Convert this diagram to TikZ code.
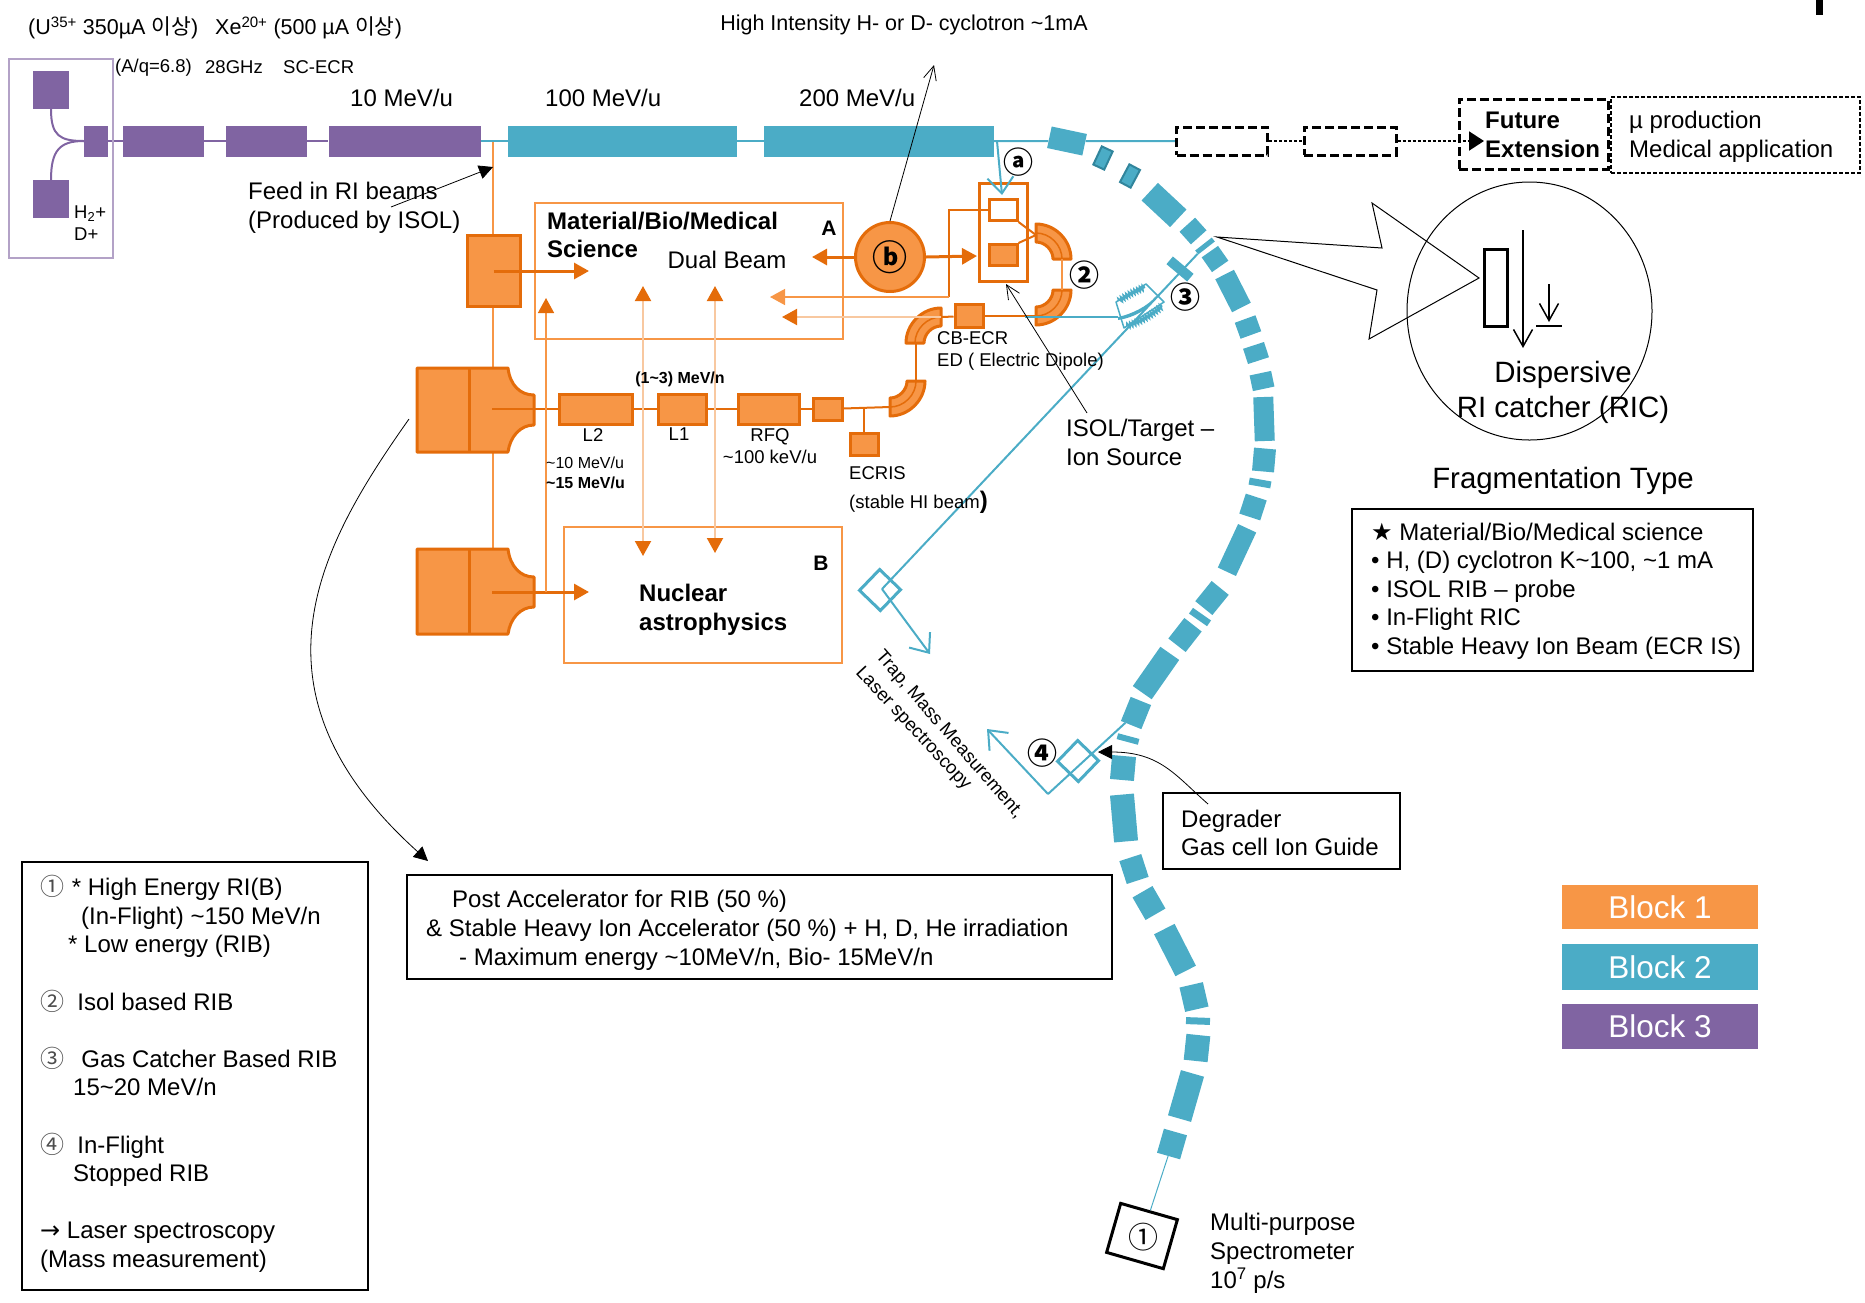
\documentclass[tikz,border=0pt]{standalone}
\usepackage{fontspec}
\usepackage{xcolor}
\usepackage{tikz}
\usetikzlibrary{shapes.geometric,arrows.meta,backgrounds,decorations.pathmorphing}
\setmainfont{Liberation Sans}
\newfontfamily\cjkfont{Noto Sans CJK KR}
\newfontfamily\symfont{DejaVu Sans}
\definecolor{blockorange}{HTML}{F79646}
\definecolor{darkorange}{HTML}{E46C0A}
\definecolor{paleorange}{HTML}{F8C8A0}
\definecolor{blockblue}{HTML}{4BACC6}
\definecolor{darkblue}{HTML}{31859C}
\definecolor{blockpurple}{HTML}{8064A2}
\definecolor{palepurple}{HTML}{B3A2C7}

\begin{document}
\begin{tikzpicture}[
    x=1pt, y=-1pt,
    txtXL/.style={inner sep=0pt, align=left, anchor=west, font=\fontsize{29.4}{35}\selectfont},
    txtL/.style={inner sep=0pt, align=left, anchor=west, font=\fontsize{24}{29}\selectfont},
    txtB/.style={inner sep=0pt, align=left, anchor=west, font=\fontsize{24}{28.6}\selectfont},
    txtM/.style={inner sep=0pt, align=left, anchor=west, font=\fontsize{21.5}{26}\selectfont},
    txtS/.style={inner sep=0pt, align=left, anchor=west, font=\fontsize{18.5}{22}\selectfont},
    txtXS/.style={inner sep=0pt, align=left, anchor=west, font=\fontsize{16}{20}\selectfont},
    circnum/.style={inner sep=0pt, font=\cjkfont\bfseries\fontsize{30}{30}\selectfont},
    accel/.style 2 args={rectangle, fill=#1, inner sep=0pt, minimum width=#2, minimum height=31pt},
    seg/.style 2 args={rectangle, fill=blockblue, inner sep=0pt, minimum width=#1, minimum height=#2},
    smallquad/.style={rectangle, fill=blockblue, draw=darkblue, line width=2pt, inner sep=0pt, minimum width=12pt, minimum height=20pt},
    magnet/.style={rectangle, fill=blockorange, draw=darkorange, line width=3pt, inner sep=0pt},
    quadshape/.style={fill=blockorange, draw=darkorange, line width=3pt, line join=round},
    frameorange/.style={rectangle, draw=blockorange, line width=2pt, inner sep=0pt},
    blackbox/.style={rectangle, draw=black, line width=2pt, inner sep=0pt},
    trapbox/.style={rectangle, draw=blockblue, line width=3pt, minimum size=29pt, rotate=46, inner sep=0pt},
    futurebox/.style={rectangle, draw=black, line width=3pt, dash pattern=on 9pt off 4pt, inner sep=0pt},
    blocktag/.style={rectangle, fill=#1, text=white, minimum width=196pt, minimum height=44pt, font=\fontsize{31.5}{31.5}\selectfont},
    beampurple/.style={draw=blockpurple, line width=2pt},
    beamblue/.style={draw=blockblue, line width=2pt},
    beamdark/.style={draw=darkorange, line width=2pt},
    beamlight/.style={draw=blockorange, line width=2pt},
    beampale/.style={draw=paleorange, line width=2pt},
    tipline/.style={draw=darkorange, line width=3pt, -{Triangle[length=15pt,width=16pt]}},
    tipthin/.style={draw=darkorange, line width=1.5pt, -{Triangle[length=15pt,width=16pt]}},
    bluebarb/.style={draw=blockblue, line width=2pt, -{Straight Barb[length=16pt,width=26pt]}},
    blackbarb/.style={draw=black, line width=1.5pt, -{Straight Barb[length=17pt,width=19pt]}},
    thinbarb/.style={draw=black, line width=0.8pt, -{Straight Barb[length=14pt,width=13pt]}},
    thinsolid/.style={draw=black, line width=0.8pt, -{Triangle[length=14pt,width=14pt]}},
    bendmag/.pic={
      \draw [quadshape] (35,0) .. controls (35,19) and (19,35) .. (0,35) -- (0,17) .. controls (9,17) and (17,9) .. (17,0) -- cycle;
      \draw [draw=darkorange, line width=1.5pt] (26,0) .. controls (26,14) and (14,26) .. (0,26);
    }
]
\useasboundingbox (0,0) rectangle (1865,1302);

% Ion sources and first linac (Block 3)
\node [rectangle, draw=palepurple, line width=2pt, minimum width=104pt, minimum height=199pt, inner sep=0pt] (srcframe) at (61,158.5) {};
\node [accel={blockpurple}{36pt}, minimum height=38pt] (srcup) at (51,90) {};
\node [accel={blockpurple}{36pt}, minimum height=38pt] (srclow) at (51,199) {};
\node [accel={blockpurple}{24pt}] (inj) at (96,141) {};
\node [accel={blockpurple}{81pt}] (acca) at (163.5,141) {};
\node [accel={blockpurple}{81pt}] (accb) at (266.5,141) {};
\node [accel={blockpurple}{152pt}] (accc) at (404.5,141) {};

% High energy linac (Block 2)
\node [accel={blockblue}{229pt}] (accd) at (622.5,141) {};
\node [accel={blockblue}{230pt}] (acce) at (879,141) {};

% Fragment separator ring
\node [seg={36pt}{22pt}, rotate=-12] (r1) at (1067,141) {};
\node [smallquad, rotate=-25] (r2) at (1103,158) {};
\node [smallquad, rotate=-28] (r3) at (1130,176) {};
\node [seg={39pt}{24pt}, rotate=-43] (r4) at (1164,205) {};
\node [seg={17pt}{21pt}, rotate=-48] (r5) at (1193,231) {};
\node [seg={5pt}{21pt}, rotate=-52] (r6) at (1205,246) {};
\node [seg={18pt}{20pt}, rotate=-55] (r7) at (1215,259) {};
\node [seg={37pt}{21pt}, rotate=-63] (r8) at (1233,291) {};
\node [seg={17pt}{22pt}, rotate=-70] (r9) at (1248,327) {};
\node [seg={16pt}{22pt}, rotate=-72] (r10) at (1256,353) {};
\node [seg={16pt}{22pt}, rotate=-78] (r11) at (1262,381) {};
\node [seg={44pt}{20pt}, rotate=-88] (r12) at (1264,419) {};
\node [seg={23pt}{22pt}, rotate=-95] (r13) at (1264,460) {};
\node [seg={7pt}{22pt}, rotate=-100] (r14) at (1260,483) {};
\node [seg={21pt}{22pt}, rotate=-108] (r15) at (1253,507) {};
\node [seg={48pt}{20pt}, rotate=-115] (r16) at (1237,550) {};
\node [seg={26pt}{22pt}, rotate=-129] (r17) at (1212,598) {};
\node [seg={7pt}{22pt}, rotate=-125] (r18) at (1200,617) {};
\node [seg={26pt}{22pt}, rotate=-128] (r19) at (1185,635) {};
\node [seg={48pt}{23pt}, rotate=-125] (r20) at (1156,673) {};
\node [seg={26pt}{22pt}, rotate=-112] (r21) at (1136,713) {};
\node [seg={6pt}{22pt}, rotate=-105] (r22) at (1128,739) {};
\node [seg={24pt}{24pt}, rotate=-95] (r23) at (1123,768) {};
\node [seg={47pt}{24pt}, rotate=-85] (r24) at (1124,818) {};
\node [seg={24pt}{23pt}, rotate=-72] (r25) at (1134,869) {};
\node [seg={26pt}{23pt}, rotate=-60] (r26) at (1149,903) {};
\node [seg={47pt}{23pt}, rotate=-63] (r27) at (1175,950) {};
\node [seg={25pt}{24pt}, rotate=-77] (r28) at (1194,997) {};
\node [seg={7pt}{24pt}, rotate=-92] (r29) at (1198,1021) {};
\node [seg={26pt}{24pt}, rotate=-96] (r30) at (1197,1048) {};
\node [seg={47pt}{24pt}, rotate=-106] (r31) at (1186,1096) {};
\node [seg={25pt}{24pt}, rotate=-106] (r32) at (1172,1144) {};
\node [seg={27pt}{10pt}, rotate=-40] (r33) at (1180,269) {};

% Future extension
\node [futurebox, minimum width=91pt, minimum height=28pt] (futa) at (1222,141) {};
\node [futurebox, minimum width=92pt, minimum height=28pt] (futb) at (1350,141) {};
\node [futurebox, minimum width=149pt, minimum height=70pt] (futc) at (1533.5,134) {};
\node [rectangle, draw=black, line width=2pt, dash pattern=on 4pt off 2pt, minimum width=249pt, minimum height=76pt, inner sep=0pt] (muonbox) at (1735.5,135) {};
\node [txtL] (muonlabel) at (1629,137) {µ production\\Medical application};
\node [rectangle, fill=black, minimum width=7pt, minimum height=15pt, inner sep=0pt] (topmark) at (1819.5,7.5) {};

% Experiment areas
\node [frameorange, minimum width=308pt, minimum height=136pt] (areaA) at (689,271) {};
\node [frameorange, minimum width=278pt, minimum height=136pt] (areaB) at (703,595) {};

% Low energy linac and RI sources (Block 1)
\node [magnet, minimum width=53pt, minimum height=71pt] (isolbox) at (493.5,271) {};
\node [magnet, minimum width=73pt, minimum height=30pt] (ltwo) at (595.5,409) {};
\node [magnet, minimum width=48pt, minimum height=30pt] (lone) at (682,409) {};
\node [magnet, minimum width=61pt, minimum height=30pt] (rfq) at (768.5,409) {};
\node [magnet, minimum width=29pt, minimum height=22pt] (buncher) at (827.5,409) {};
\node [magnet, minimum width=28pt, minimum height=22pt] (ecris) at (864,444.5) {};
\node [magnet, minimum width=28pt, minimum height=23pt] (cbecr) at (969,316) {};
\node [rectangle, draw=darkorange, line width=3pt, minimum width=48pt, minimum height=98pt, inner sep=0pt] (ionbox) at (1003,232) {};
\node [magnet, fill=white, minimum width=28pt, minimum height=21pt] (targup) at (1003,210) {};
\node [magnet, minimum width=28pt, minimum height=21pt] (targlow) at (1003,255) {};
\node [circle, fill=blockorange, draw=darkorange, line width=3pt, minimum size=69pt, inner sep=0pt, font=\cjkfont\bfseries\fontsize{35}{35}\selectfont] (cyclotron) at (890,257) {ⓑ};

\coordinate (teetop) at (493,141);
\coordinate (quadAc) at (492,409);
\coordinate (quadBc) at (492,592);
\coordinate (quadBtop) at (493,550);
\coordinate (bendAin) at (941,317);
\coordinate (bendAout) at (916,343);
\coordinate (bendBin) at (916,381);
\coordinate (bendBout) at (890,407);
\coordinate (bendCin) at (1036,316);
\coordinate (bendCout) at (1062,290);
\coordinate (bendDin) at (1062,259);
\coordinate (bendDout) at (1036,235);
\coordinate (ecrtee) at (864,409);

% Quadrupole shaped dipoles
\draw [quadshape] (417,368) -- (508,368) .. controls (510,385) and (520,395) .. (534,395) -- (534,425) .. controls (520,425) and (510,437) .. (508,452) -- (417,452) -- cycle;
\draw [quadshape] (469,368) -- (469,452);
\draw [quadshape] (417,549) -- (508,549) .. controls (510,566) and (520,577) .. (534,577) -- (534,607) .. controls (520,607) and (510,619) .. (508,634) -- (417,634) -- cycle;
\draw [quadshape] (469,549) -- (469,634);
\pic [rotate=180] (bendA) at (941,343) {bendmag};
\pic (bendB) at (890,381) {bendmag};
\pic (bendC) at (1036,290) {bendmag};
\pic [rotate=90] (bendD) at (1036,259) {bendmag};

% Lines behind the magnets
\begin{scope}[on background layer]
\path [beamlight] (teetop) -- (quadBtop);
\path [beamlight] (546,592) -- (546,320);
\path [beampale] (643,300) -- (643,545);
\path [beampale] (715,300) -- (715,545);
\path [beampurple] (inj) -- (acca);
\path [beampurple] (acca) -- (accb);
\path [beampurple] (accb) -- (accc);
\path [beamblue] (accc) -- (accd);
\path [beamblue] (accd) -- (acce);
\path [beamblue] (acce) -- (r1);
\path [beamblue] (r1) -- (futa);
\end{scope}

% Connections - beam lines
\path [beampurple] (srcup.south) .. controls (51,136) and (60,141) .. (inj.west);
\path [beampurple] (srclow.north) .. controls (51,150) and (60,141) .. (inj.west);
\path [beamdark] (quadAc) -- (ltwo);
\path [beamdark] (ltwo) -- (lone);
\path [beamdark] (lone) -- (rfq);
\path [beamdark] (rfq) -- (buncher);
\path [beamdark] (buncher) -- (bendBout);
\path [beamdark] (ecrtee) -- (ecris);
\path [beamdark] (bendAout) -- (bendBin);
\path [beamdark] (bendAin) -- (cbecr);
\path [beamdark] (cbecr) -- (bendCin);
\path [beamlight] (bendCout) -- (bendDin);
\path [beamdark] (targup.south east) -- (bendDout);
\path [beamdark] (targlow.north east) -- (bendDout);
\path [beamdark] (targup.west) -- (949,210) -- (949,297);
\path [beamlight, draw=blockorange] (949,297) -- (800,297);

% Connections - arrows into the areas
\path [tipline] (isolbox.center) -- (589,271);
\path [tipline] (quadBc) -- (589,592);
\path [tipline] (cyclotron.west) -- (812,257);
\path [tipline] (cyclotron.east) -- (977,256);
\path [tipthin, draw=blockorange] (949,297) -- (770,297);
\path [tipthin, draw=paleorange, line width=2pt, {Triangle[length=15pt,width=16pt,fill=darkorange,color=darkorange]}-] (782,317) -- (bendAin);
\path [draw=blockorange, line width=1.5pt, {Triangle[length=15pt,width=16pt,fill=darkorange,color=darkorange]}-] (546,298) -- (546,592);
\path [draw=paleorange, line width=2pt, {Triangle[length=15pt,width=16pt,fill=darkorange,color=darkorange]}-{Triangle[length=15pt,width=16pt,fill=darkorange,color=darkorange]}] (643,286) -- (643,556);
\path [draw=paleorange, line width=2pt, {Triangle[length=15pt,width=16pt,fill=darkorange,color=darkorange]}-{Triangle[length=15pt,width=16pt,fill=darkorange,color=darkorange]}] (715,286) -- (715,553);

% Gas catcher and trap lines
\node [trapbox] (trapA) at (880,590) {};
\node [trapbox] (trapB) at (1078,761) {};
\coordinate (trapturn) at (882,589);
\coordinate (fourturn) at (1048,794);
\coordinate (catchin) at (1118,317);
\path [beamblue] (1025,317) -- (catchin);
\path [beamblue] (r6) -- (trapturn);
\path [bluebarb] (trapturn) -- (930,654);
\path [beamblue] (r21) -- (fourturn);
\path [bluebarb] (fourturn) -- (987,729);
\path [bluebarb] (997,141) -- (1002,195);
\draw [draw=blockblue, line width=1.5pt, line join=round] (1116,302) -- (1146,284) -- (1164,302) -- (1124,328) -- cycle;
\draw [draw=blockblue, line width=2pt, decorate, decoration={zigzag, segment length=3pt, amplitude=2pt}] (1119,301) .. controls (1127,295) and (1136,291) .. (1145,287);
\draw [draw=blockblue, line width=2pt, decorate, decoration={zigzag, segment length=3pt, amplitude=2pt}] (1127,326) .. controls (1140,322) and (1152,315) .. (1162,306);
\fill [blockblue] (1118,317) .. controls (1132,314) and (1148,306) .. (1156,296) .. controls (1150,310) and (1132,318) .. (1118,320) -- cycle;

% Spectrometer
\node [rectangle, draw=black, line width=3pt, minimum width=59pt, minimum height=51pt, rotate=-16, inner sep=0pt] (spec) at (1142,1236) {};
\node [inner sep=0pt, font=\cjkfont\fontsize{30}{30}\selectfont] (specnum) at (1143,1237) {①};
\path [draw=blockblue, line width=1pt] (r32) -- (spec);

% Future extension connections
\path [draw=black, line width=2pt, dash pattern=on 3pt off 2pt] (futa) -- (futb);
\path [draw=black, line width=2pt, dash pattern=on 3pt off 2pt, -{Triangle[length=15pt,width=19pt]}] (futb) -- (1484,141);

% Dispersive catcher inset
\node [ellipse, draw=black, line width=1pt, minimum width=245pt, minimum height=258pt, inner sep=0pt] (catcher) at (1529.5,311) {};
\node [rectangle, draw=black, line width=3pt, minimum width=23pt, minimum height=77pt, inner sep=0pt] (catchbar) at (1495.5,287.5) {};
\coordinate (calltip) at (1217,237);
\draw [draw=black, line width=1pt] (calltip) -- (1382,248) -- (1372,203) -- (1479,278) -- (1369,339) -- (1377,290) -- cycle;
\path [blackbarb] (1523,230) -- (1523,348);
\path [blackbarb] (1549,284) -- (1549,322);
\path [draw=black, line width=2pt] (1536,326) -- (1562,326);
\node [txtXL, anchor=center, align=center] (dispersive) at (1563,392.5) {Dispersive\\RI catcher (RIC)};
\node [txtXL, anchor=center] (fragtype) at (1563,481) {Fragmentation Type};

% Boxes with text
\node [blackbox, minimum width=401pt, minimum height=162pt] (fragbox) at (1552.5,590) {};
\node [txtB] (fraglabel) at (1371,591) {{\symfont ★} Material/Bio/Medical science\\• H, (D) cyclotron K\textasciitilde100, \textasciitilde1 mA\\• ISOL RIB – probe\\• In-Flight RIC\\• Stable Heavy Ion Beam (ECR IS)};
\node [blackbox, minimum width=237pt, minimum height=76pt] (degbox) at (1281.5,831) {};
\node [txtB] (deglabel) at (1181,833) {Degrader\\Gas cell Ion Guide};
\node [blackbox, minimum width=705pt, minimum height=104pt] (postbox) at (759.5,927) {};
\node [txtB, font=\fontsize{24}{29}\selectfont] (postlabel) at (426,930) {\hspace*{26pt}Post Accelerator for RIB (50 \%)\\\&\ Stable Heavy Ion Accelerator (50 \%) + H, D, He irradiation\\\hspace*{33pt}- Maximum energy \textasciitilde10MeV/n, Bio- 15MeV/n};
\node [blackbox, minimum width=346pt, minimum height=428pt] (legendbox) at (195,1076) {};
\node [txtB] (legendlabel) at (40,1074) {{\cjkfont\textcolor{black!70}{①}} \hspace{1pt}* High Energy RI(B)\\\hspace*{41pt}(In-Flight) \textasciitilde150 MeV/n\\\hspace*{28pt}* Low energy (RIB)\\[28.6pt]{\cjkfont\textcolor{black!70}{②}} \hspace{6.5pt}Isol based RIB\\[28.6pt]{\cjkfont\textcolor{black!70}{③}} \hspace{10.5pt}Gas Catcher Based RIB\\\hspace*{33pt}15\textasciitilde20 MeV/n\\[28.6pt]{\cjkfont\textcolor{black!70}{④}} \hspace{6.5pt}In-Flight\\\hspace*{33pt}Stopped RIB\\[28.6pt]{\symfont →} Laser spectroscopy\\(Mass measurement)};

% Block tags
\node [blocktag=blockorange] (blockone) at (1660,907) {Block 1};
\node [blocktag=blockblue, minimum height=46pt] (blocktwo) at (1660,967) {Block 2};
\node [blocktag=blockpurple, minimum height=45pt] (blockthree) at (1660,1026.5) {Block 3};

% Thin pointers
\path [thinsolid] (391,207) -- (493,167);
\path [thinbarb] (cyclotron.north) -- (934,65);
\path [thinbarb] (1087,413) -- (1006,284);
\draw [thinsolid] (1208,804) .. controls (1175,775) and (1160,752) .. (1098,752);
\draw [thinsolid] (409,419) .. controls (320,545) and (238,690) .. (428,861);

% Labels
\node [txtM] (ionlabel) at (28,28) {(U\textsuperscript{35+} 350µA {\cjkfont 이상})};
\node [txtM] (xelabel) at (215,28) {Xe\textsuperscript{20+} (500 µA {\cjkfont 이상})};
\node [txtS] (aqlabel) at (115,68) {(A/q=6.8)};
\node [txtS] (ghzlabel) at (205,67) {28GHz};
\node [txtS] (sclabel) at (283,67) {SC-ECR};
\node [txtS] (h2label) at (74,223) {H\textsubscript{2}+\\D+};
\node [txtL] (tenlabel) at (350,98) {10 MeV/u};
\node [txtL] (hundredlabel) at (545,98) {100 MeV/u};
\node [txtL] (twohlabel) at (799,98) {200 MeV/u};
\node [txtM, anchor=center] (cyclabel) at (904,25) {High Intensity H- or D- cyclotron \textasciitilde1mA};
\node [txtL] (feedlabel) at (248,208) {Feed in RI beams\\(Produced by ISOL)};
\node [txtL, font=\bfseries\fontsize{24}{28}\selectfont] (matlabel) at (547,234.5) {Material/Bio/Medical\\Science};
\node [txtL, anchor=center, font=\bfseries\fontsize{21}{21}\selectfont] (alabel) at (829,228) {A};
\node [txtL, anchor=center] (duallabel) at (727,260) {Dual Beam};
\node [txtL, anchor=center, font=\bfseries\fontsize{21}{21}\selectfont] (blabel) at (821,563) {B};
\node [txtL, font=\bfseries\fontsize{24}{29}\selectfont] (nuclabel) at (639,610) {Nuclear\\astrophysics};
\node [txtS, anchor=center] (ltwolabel) at (593,435) {L2};
\node [txtS, anchor=center] (lonelabel) at (679,434) {L1};
\node [txtS, anchor=center, align=center] (rfqlabel) at (770,446) {RFQ\\\textasciitilde100 keV/u};
\node [txtXS, anchor=center, font=\bfseries\fontsize{16}{16}\selectfont] (mevlabel) at (680,379) {(1\textasciitilde3) MeV/n};
\node [txtXS] (fifteenlabel) at (546,473) {\textasciitilde10 MeV/u\\\textbf{\textasciitilde15 MeV/u}};
\node [txtS, font=\fontsize{18.5}{29}\selectfont] (ecrislabel) at (849,490) {ECRIS\\(stable HI beam\textbf{\fontsize{24}{29}\selectfont )}};
\node [txtS] (cblabel) at (937,351) {CB-ECR\\ED ( Electric Dipole)};
\node [txtL] (isollabel) at (1066,442) {ISOL/Target –\\Ion Source};
\node [txtL, font=\bfseries\fontsize{24}{29}\selectfont] (futlabel) at (1485,135) {Future\\Extension};
\node [txtL] (speclabel) at (1210,1253.5) {Multi-purpose\\Spectrometer\\10\textsuperscript{7} p/s};
\node [txtS, anchor=center, rotate=-49] (traplabel) at (949,735) {Trap, Mass Measurement,};
\node [txtS, anchor=center, rotate=-47] (laserlabel) at (913,729) {Laser spectroscopy};
\node [circnum] (numa) at (1018,162) {ⓐ};
\node [circnum] (numtwo) at (1084,275) {②};
\node [circnum] (numthree) at (1185,297) {③};
\node [circnum] (numfour) at (1042,753) {④};

\end{tikzpicture}
\end{document}
